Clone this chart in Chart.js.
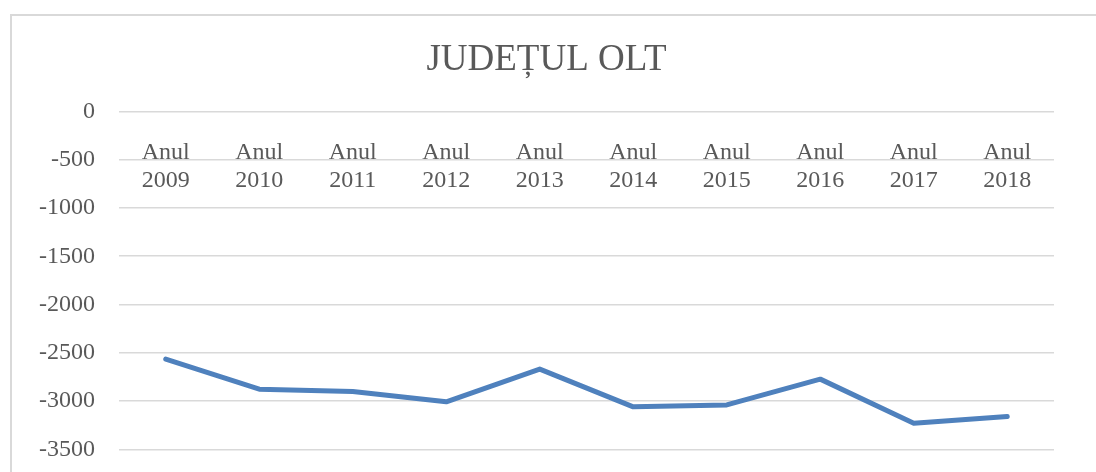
<!DOCTYPE html>
<html>
<head>
<meta charset="utf-8">
<script src="https://cdn.jsdelivr.net/npm/chart.js@4.4.1/dist/chart.umd.min.js"></script>
<style>
  html, body { margin: 0; padding: 0; background: #fff; overflow: hidden; }
  #box {
    position: absolute; left: 10px; top: 14px;
    width: 1100px; height: 600px;
    border-top: 2px solid #d9d9d9; border-left: 2px solid #d9d9d9;
  }
  #wrap { position: absolute; left: 0; top: 0; width: 1068px; height: 520px; }
</style>
</head>
<body>
<div id="box">
  <div id="wrap"><canvas id="grafic"></canvas></div>
</div>
<script>
// Date
const ani = ['2009', '2010', '2011', '2012', '2013', '2014', '2015', '2016', '2017', '2018'];
const valori = [-2565, -2877, -2900, -3008, -2669, -3060, -3040, -2773, -3229, -3160];
const yMin = -4000;
const yMax = 0;
const yPas = 500;

const font = "'Liberation Serif', 'DejaVu Serif', serif";
const gri = '#595959';

const ctx = document.getElementById('grafic');
new Chart(ctx, {
  type: 'line',
  data: {
    labels: ani.map(a => ['Anul', a]),
    datasets: [{
      data: valori,
      borderColor: '#4f81bd',
      borderWidth: 5,
      borderCapStyle: 'round',
      borderJoinStyle: 'round',
      pointRadius: 0,
      tension: 0,
      fill: false
    }]
  },
  options: {
    responsive: true,
    maintainAspectRatio: false,
    animation: false,
    layout: { padding: { left: 27, right: 26, top: 0, bottom: 0 } },
    plugins: {
      legend: { display: false },
      tooltip: { enabled: false },
      title: {
        display: true,
        text: 'JUDEȚUL OLT',
        color: gri,
        font: { family: font, size: 37, weight: 'normal' },
        padding: { top: 22, bottom: 29 }
      }
    },
    scales: {
      x: {
        position: { y: 0 },
        offset: true,
        grid: { display: false, drawTicks: false },
        border: { display: false },
        ticks: {
          color: gri,
          padding: 28,
          maxRotation: 0,
          font: { family: font, size: 24, lineHeight: 1.15 }
        }
      },
      y: {
        min: yMin,
        max: yMax,
        afterFit: s => { s.width = 80; },
        grid: { color: '#d9d9d9', lineWidth: 1.5, drawTicks: false },
        border: { display: false },
        ticks: {
          stepSize: yPas,
          color: gri,
          padding: 24,
          font: { family: font, size: 24 },
          callback: v => String(v)
        }
      }
    }
  }
});
</script>
</body>
</html>
